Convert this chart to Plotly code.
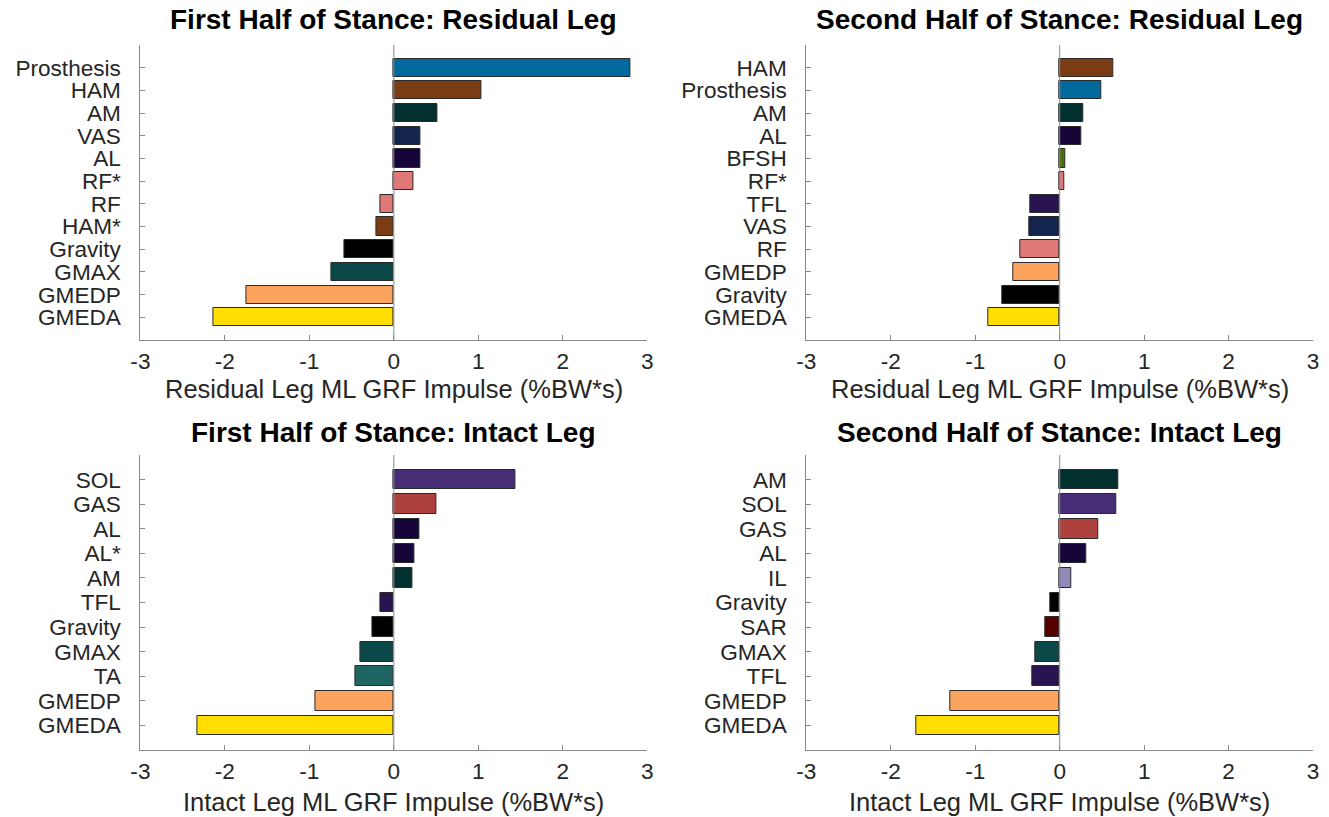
import plotly.graph_objects as go

W, H = 1329, 817

# ---------------- data ----------------
p1_labels = ["Prosthesis", "HAM", "AM", "VAS", "AL", "RF*", "RF", "HAM*", "Gravity", "GMAX", "GMEDP", "GMEDA"]
p1_values = [2.80, 1.04, 0.52, 0.32, 0.31, 0.23, -0.16, -0.21, -0.58, -0.74, -1.75, -2.13]

p2_labels = ["HAM", "Prosthesis", "AM", "AL", "BFSH", "RF*", "TFL", "VAS", "RF", "GMEDP", "Gravity", "GMEDA"]
p2_values = [0.64, 0.49, 0.28, 0.26, 0.065, 0.056, -0.35, -0.36, -0.47, -0.555, -0.68, -0.845]

p3_labels = ["SOL", "GAS", "AL", "AL*", "AM", "TFL", "Gravity", "GMAX", "TA", "GMEDP", "GMEDA"]
p3_values = [1.44, 0.51, 0.30, 0.24, 0.22, -0.16, -0.25, -0.40, -0.46, -0.93, -2.33]

p4_labels = ["AM", "SOL", "GAS", "AL", "IL", "Gravity", "SAR", "GMAX", "TFL", "GMEDP", "GMEDA"]
p4_values = [0.69, 0.67, 0.455, 0.315, 0.14, -0.11, -0.175, -0.285, -0.33, -1.30, -1.70]

titles = ["First Half of Stance: Residual Leg", "Second Half of Stance: Residual Leg",
          "First Half of Stance: Intact Leg", "Second Half of Stance: Intact Leg"]
xtitles = ["Residual Leg ML GRF Impulse (%BW*s)", "Residual Leg ML GRF Impulse (%BW*s)",
           "Intact Leg ML GRF Impulse (%BW*s)", "Intact Leg ML GRF Impulse (%BW*s)"]
x_ticks = [-3, -2, -1, 0, 1, 2, 3]

colors = {
    "Prosthesis": "#006a9c", "HAM": "#7a3c12", "HAM*": "#7a3c12", "AM": "#02302f",
    "VAS": "#13254f", "AL": "#150538", "AL*": "#150538", "RF": "#df7876", "RF*": "#df7876",
    "Gravity": "#000000", "GMAX": "#0b4949", "GMEDP": "#fca35d", "GMEDA": "#ffde00",
    "BFSH": "#4c6e10", "TFL": "#271450", "SOL": "#472e76", "GAS": "#ae403e",
    "TA": "#1f6662", "IL": "#9387b8", "SAR": "#560000",
}

panels = [(p1_labels, p1_values), (p2_labels, p2_values), (p3_labels, p3_values), (p4_labels, p4_values)]

# pixel boxes of the axes (left, right, top, bottom)
boxes = [(132, 645, 45, 340), (806, 1319, 45, 340), (132, 645, 455, 750), (806, 1319, 455, 750)]
xtitle_off = [49, 49, 52, 52]
title_off = [25, 25, 23, 23]

FONT = "Liberation Sans, Arial, Helvetica, sans-serif"
AX_COL = "#8a8a8a"
TXT_COL = "#262626"

fig = go.Figure()
annotations = []
shapes = []

for i, ((labs, vals), (l, r, t, b)) in enumerate(zip(panels, boxes)):
    n = i + 1
    xa = "x" if n == 1 else f"x{n}"
    ya = "y" if n == 1 else f"y{n}"
    fig.add_trace(go.Bar(
        x=vals, y=labs, orientation="h", width=0.8,
        marker=dict(color=[colors[c] for c in labs], line=dict(color="#2a2a2a", width=1)),
        xaxis=xa, yaxis=ya, showlegend=False, hoverinfo="x+y",
    ))
    xkey = "xaxis" if n == 1 else f"xaxis{n}"
    ykey = "yaxis" if n == 1 else f"yaxis{n}"
    fig.layout[xkey] = dict(
        domain=[l / W, r / W], anchor=ya, range=[-3, 3], tickmode="array", tickvals=x_ticks,
        ticktext=[str(v) for v in x_ticks], ticks="inside", ticklen=5, tickcolor=AX_COL,
        showline=True, linecolor=AX_COL, linewidth=1, showgrid=False, zeroline=False,
        tickfont=dict(family=FONT, size=22.6, color=TXT_COL), ticklabelstandoff=1,
        fixedrange=True,
    )
    fig.layout[ykey] = dict(
        domain=[1 - b / H, 1 - t / H], anchor=xa, type="category",
        categoryorder="array", categoryarray=list(reversed(labs)),
        tickmode="array", tickvals=labs, ticktext=labs,
        range=[-1, len(labs)], ticks="inside", ticklen=5, tickcolor=AX_COL,
        showline=True, linecolor=AX_COL, linewidth=1, showgrid=False, zeroline=False,
        tickfont=dict(family=FONT, size=22.6, color=TXT_COL), ticklabelstandoff=14,
        fixedrange=True,
    )
    # bar baseline at x = 0
    shapes.append(dict(type="line", xref=xa, yref=f"{ya} domain", x0=0, x1=0, y0=0, y1=1,
                       line=dict(color=AX_COL, width=1), layer="above"))
    cx = (l + r) / 2 / W
    annotations.append(dict(text=f"<b>{titles[i]}</b>", x=cx, y=1 - (t - title_off[i]) / H,
                            xref="paper", yref="paper", xanchor="center", yanchor="middle",
                            showarrow=False, font=dict(family=FONT, size=28, color="#000000")))
    annotations.append(dict(text=xtitles[i], x=cx, y=1 - (b + xtitle_off[i]) / H,
                            xref="paper", yref="paper", xanchor="center", yanchor="middle",
                            showarrow=False, font=dict(family=FONT, size=25.5, color=TXT_COL)))

fig.update_layout(
    width=W, height=H, margin=dict(l=0, r=0, t=0, b=0),
    paper_bgcolor="white", plot_bgcolor="white",
    annotations=annotations, shapes=shapes, bargap=0,
)

fig.write_html("out.html")
